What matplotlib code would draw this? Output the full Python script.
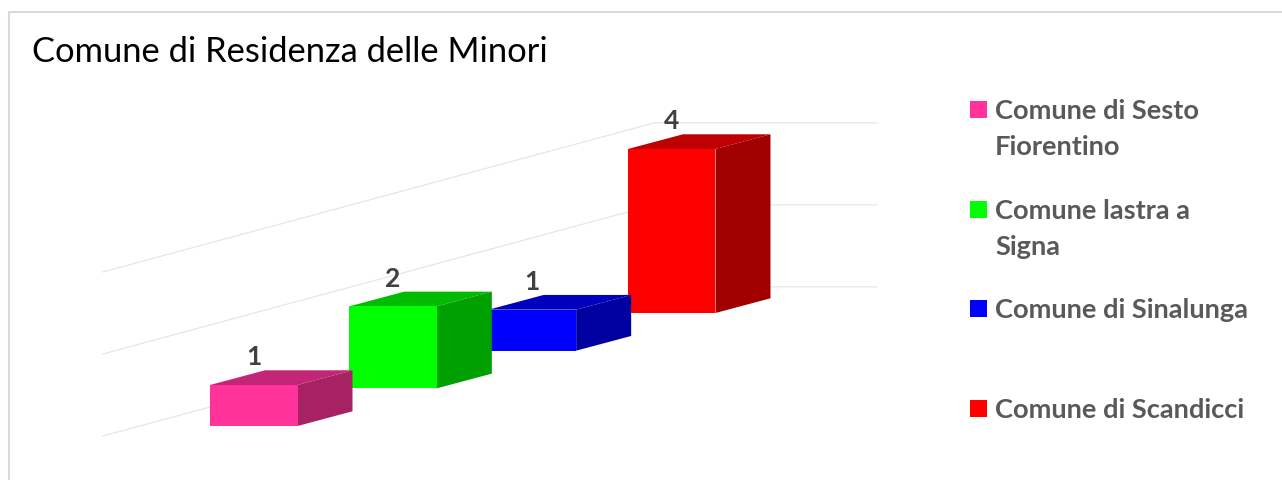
import matplotlib
matplotlib.use("Agg")
import matplotlib.pyplot as plt
from matplotlib.patches import Polygon, Rectangle

# Data
categories = ["Comune di Sesto\nFiorentino", "Comune lastra a\nSigna", "Comune di Sinalunga", "Comune di Scandicci"]
values = [1, 2, 1, 4]
grid_values = [0, 2, 4]
front_colors = ["#FF3399", "#00FF00", "#0000FF", "#FF0000"]
top_colors = ["#C42677", "#00BB00", "#0000BF", "#BF0000"]
side_colors = ["#A62263", "#00A000", "#0000A0", "#A00000"]
title = "Comune di Residenza delle Minori"

# Oblique projection of (category, value) to canvas units
X0, Y0, DX, DY, UNIT = 210.0, 427.0, 139.33, 37.67, 41.0
BAR_W, DEPTH_X, DEPTH_Y = 87.5, 55.0, 14.7
FONT = "Lato"


def project(c, v):
    return X0 + DX * c, Y0 - DY * c - UNIT * v


fig = plt.figure(figsize=(12.82, 4.81), dpi=100)
ax = fig.add_axes([0, 0, 1, 1])
ax.set_xlim(0, 1282)
ax.set_ylim(481, 0)
ax.axis("off")

# chart frame
ax.plot([9, 9, 1282], [481, 12.5, 12.5], color="#D9D9D9", lw=1.5, zorder=1)

# gridlines on the skewed wall
for g in grid_values:
    xa, ya = project(-0.768, g)
    xb, yb = project(3.19, g)
    ax.plot([xa, xb, 877], [ya - 19, yb - 19, yb - 19], color="#E6E6E6", lw=0.9, zorder=2)

# bars, back to front
for i in range(len(values) - 1, -1, -1):
    x, y0 = project(i, 0)
    _, y1 = project(i, values[i])
    z = 10 + (len(values) - i)
    ax.add_patch(Polygon([(x, y1), (x + DEPTH_X, y1 - DEPTH_Y), (x + BAR_W + DEPTH_X, y1 - DEPTH_Y), (x + BAR_W, y1)],
                         closed=True, fc=top_colors[i], ec="none", zorder=z))
    ax.add_patch(Polygon([(x + BAR_W, y1), (x + BAR_W + DEPTH_X, y1 - DEPTH_Y), (x + BAR_W + DEPTH_X, y0 - DEPTH_Y), (x + BAR_W, y0)],
                         closed=True, fc=side_colors[i], ec="none", zorder=z))
    ax.add_patch(Rectangle((x, y1), BAR_W, y0 - y1, fc=front_colors[i], ec="none", zorder=z))
    ax.text(x + 43.5, y1 - 28.5, str(values[i]), ha="center", va="center", fontsize=19,
            fontweight="bold", family=FONT, color="#404040", zorder=30)

ax.text(32, 51.5, title, ha="left", va="center", fontsize=24.8, family=FONT, color="#000000", zorder=30)

# legend
legend_y = [110.5, 210.5, 309.5, 409.5]
for name, col, ly in zip(categories, front_colors, legend_y):
    ax.add_patch(Rectangle((970, ly - 8.5), 17, 17, fc=col, ec="none", zorder=30))
    for k, line in enumerate(name.split("\n")):
        ax.text(995, ly + k * 36 + 0.5, line, ha="left", va="center", fontsize=19.6, fontweight="bold",
                family=FONT, color="#595959", zorder=30)

fig.savefig("out.png", dpi=100, facecolor="white")
